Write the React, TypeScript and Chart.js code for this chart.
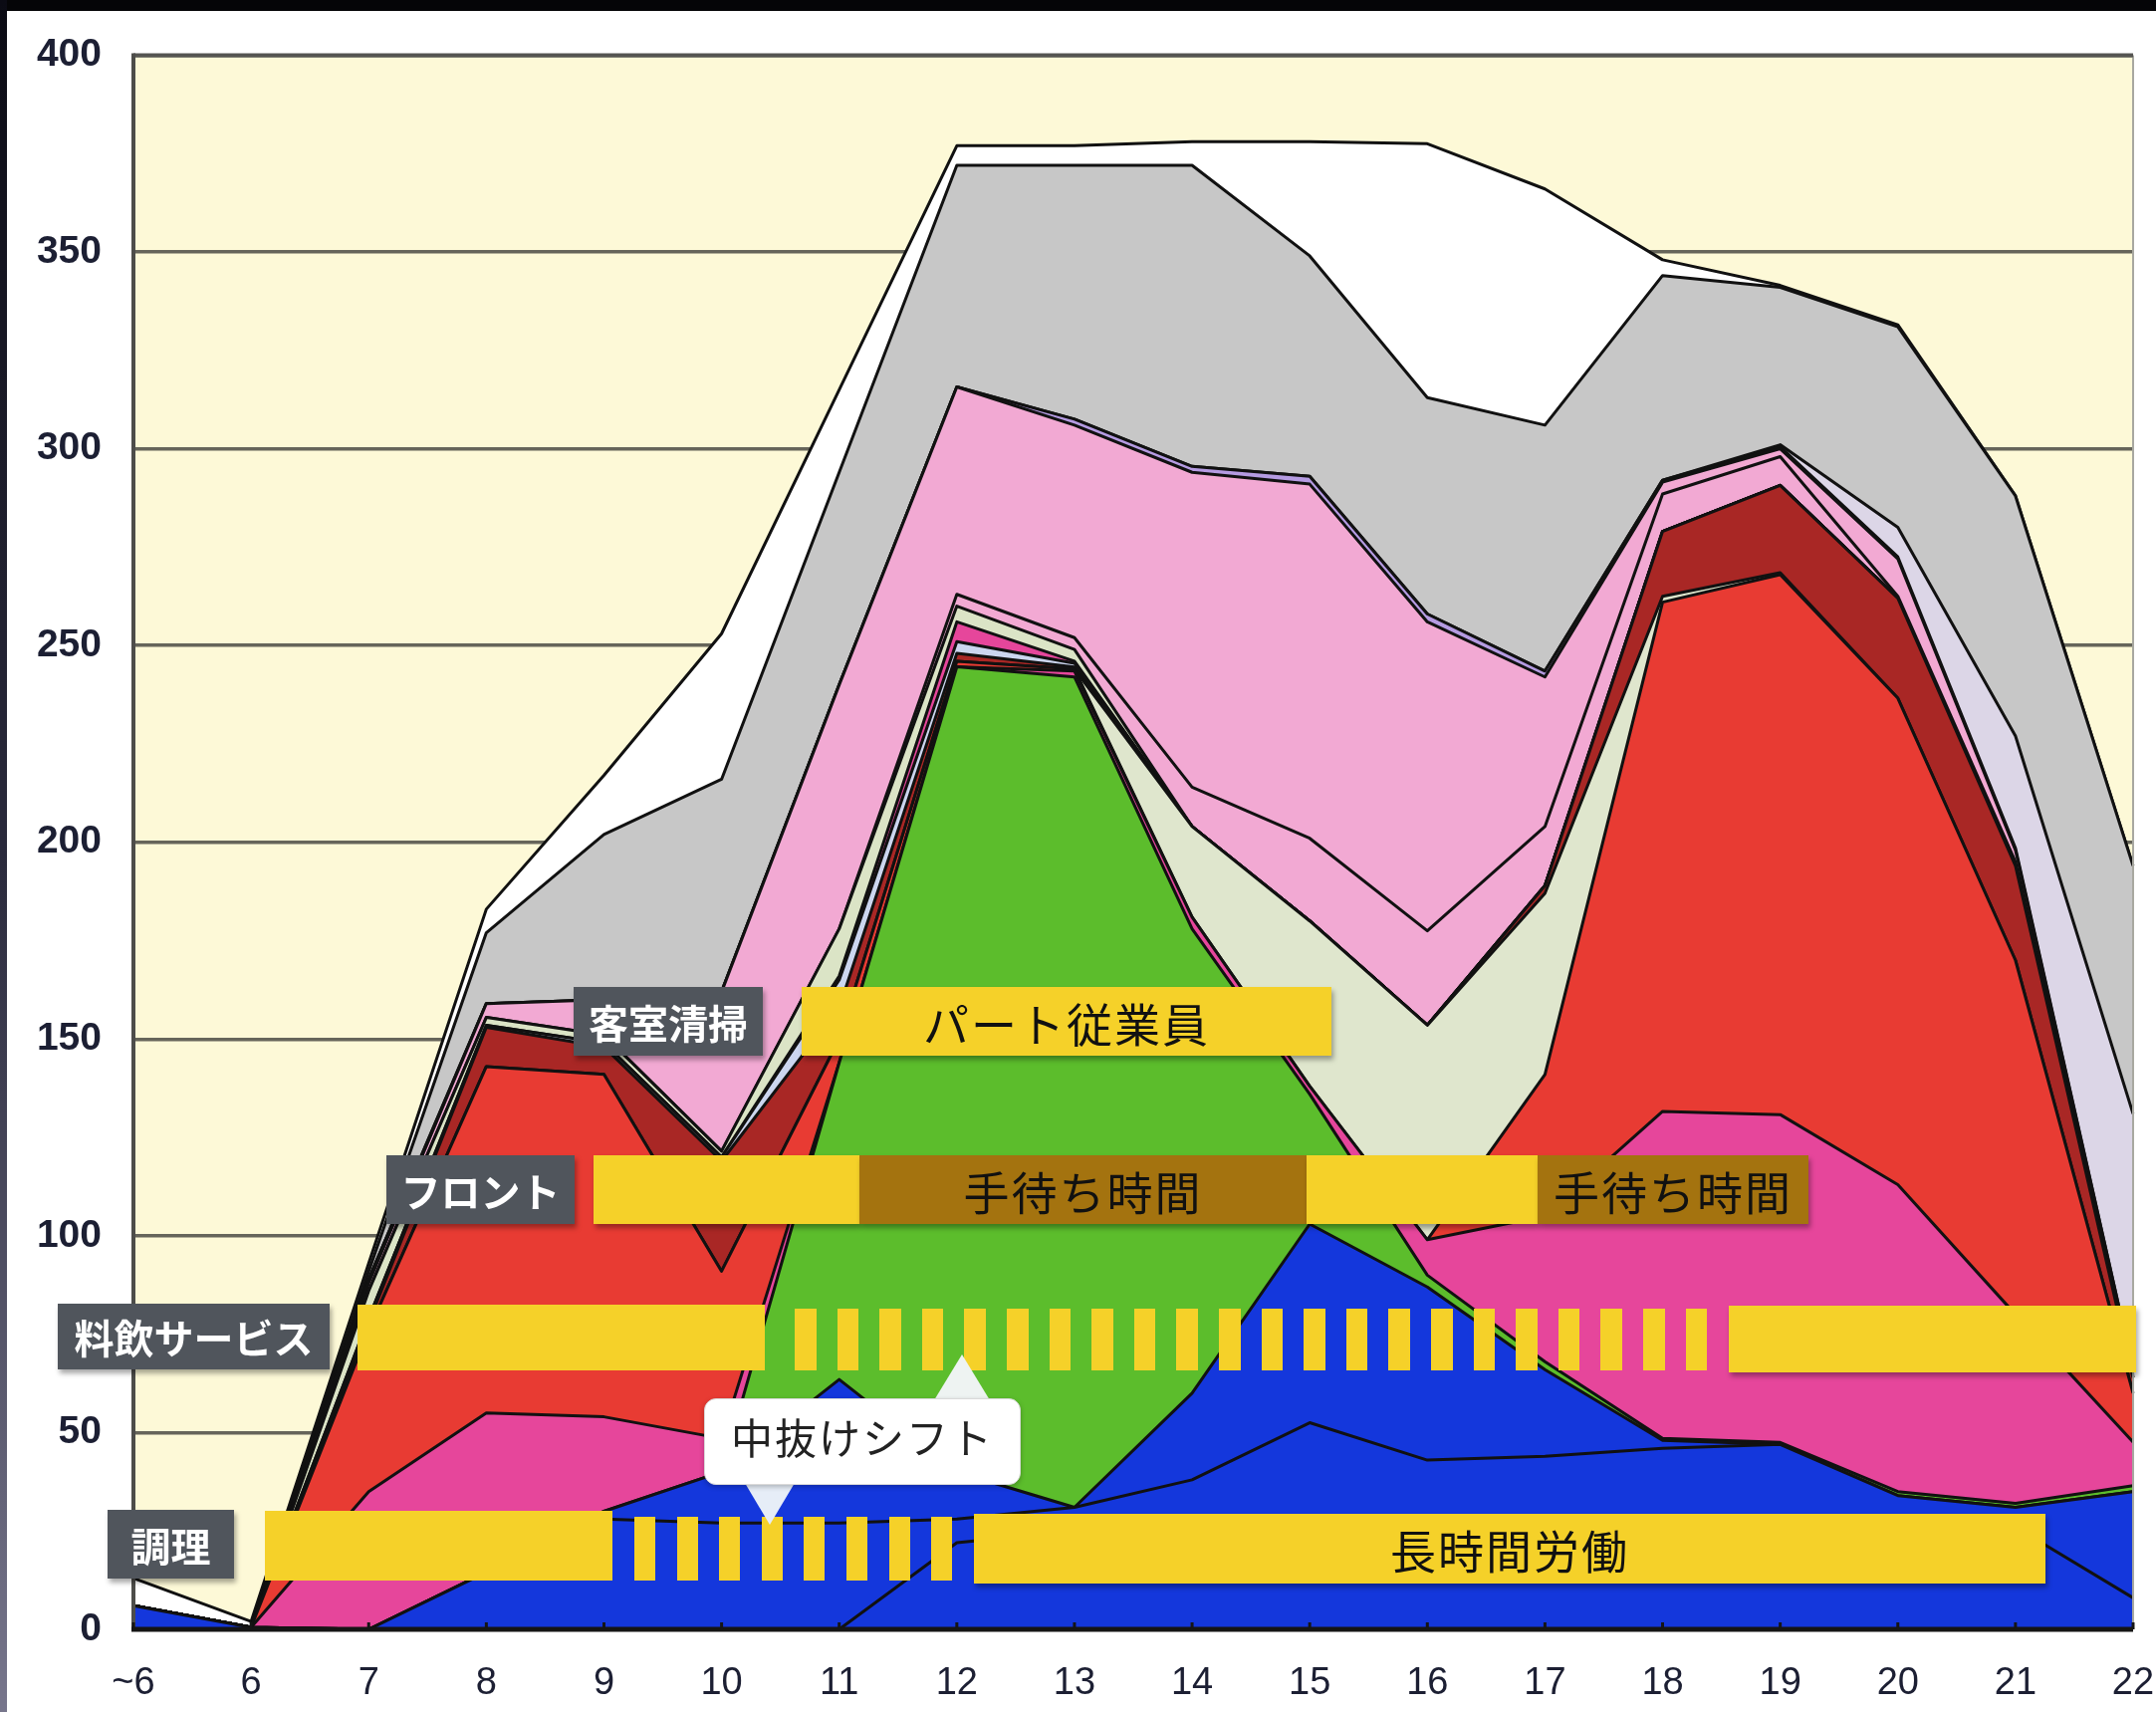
import React, { useEffect, useRef } from 'react';
import { Chart, registerables } from 'chart.js';

Chart.register(...registerables);

// ---- categories (hour of day) ----
const hours = ['~6', '6', '7', '8', '9', '10', '11', '12', '13', '14', '15', '16', '17', '18', '19', '20', '21', '22'];
const yTicks = [0, 50, 100, 150, 200, 250, 300, 350, 400];

// ---- stacked layer values (bottom to top) ----
const blueBase    = [6, 0.5, 0, 0, 0, 0, 0, 22, 25, 26, 27, 27, 27, 27, 27, 27, 26, 8];
const blueMid     = [0, 0, 0, 14.5, 28, 27, 27, 6, 6, 12, 25.5, 16, 17, 19, 20, 7, 5, 27];
const blueUpper   = [0, 0, 0, 0, 2, 13, 36.5, 12, 0, 22, 50.5, 44, 22, 2, 0, 0, 0, 0];
const greenPart   = [0, 0, 0, 0, 0, 0, 80.5, 204.6, 211, 118, 33, 3, 2, 0.5, 0.5, 1, 1, 1.5];
const magentaPart = [0, 0, 35, 40.5, 24, 8.5, 0, 0, 1.5, 3, 2, 9, 37, 83.1, 83.3, 78, 48, 11.1];
const redPart     = [0, 0, 41, 88, 87, 42.5, 6, 1.4, 0.5, 0, 0, 0, 36, 129.4, 137.2, 123.6, 90, 12.4];
const sageLower   = [0, 0, 0, 0, 0, 0, 0, 0, 0, 23, 42, 54.5, 46, 1.5, 0.5, 0, 0, 0];
const darkRedPart = [0, 0, 2, 10, 7, 28, 8, 2, 0.5, 0, 0, 0, 2, 16.5, 22.2, 25.4, 24, 4];
const paleBlue    = [0, 0, 1, 0.5, 1, 1, 7, 3, 1, 0, 0, 0, 0, 0, 0, 0, 0, 0];
const hotPinkThin = [0, 0, 0, 0, 0, 0, 1, 5, 0.5, 0, 0, 0, 0, 0, 0, 0, 0, 0];
const sageUpper   = [0, 0, 7, 2, 2, 1.5, 12, 4, 3, 0, 0, 0, 0, 0, 0, 0, 0, 0];
const pinkLower   = [0, 0, 0, 0, 0, 0, 0, 3, 3, 10, 21, 24, 15, 9.5, 7.3, 0.5, 1, 0.5];
const pinkUpper   = [0, 0, 2, 3.5, 9, 40.5, 62, 52.7, 54, 80, 90, 78.5, 38, 3, 2, 9.5, 3, 1.5];
const lavenderThin= [0, 0, 1, 0, 0, 0, 0, 0, 1.5, 1.5, 2, 2, 1.5, 0.5, 0.5, 0.5, 0.5, 0];
const lavenderPale= [0, 0, 0, 0, 0, 0, 0, 0, 0, 0, 0, 0, 0, 0, 0.5, 7.5, 28.5, 65];
const grayPart    = [0, 0, 2, 18, 42, 54, 54, 56.3, 64.5, 76.5, 56, 55, 62.5, 52, 40, 51, 61, 63];
const whitePart   = [7, 1.5, 2, 6, 15, 37, 21, 5, 5, 6, 29, 64.5, 60, 4, 0.5, 0.5, 0, 0];

const layers = [
  { label: 'blueBase', data: blueBase, color: '#1437dc' },
  { label: 'blueMid', data: blueMid, color: '#1437dc' },
  { label: 'blueUpper', data: blueUpper, color: '#1437dc' },
  { label: 'green', data: greenPart, color: '#5cbd2c' },
  { label: 'magenta', data: magentaPart, color: '#e6469b' },
  { label: 'red', data: redPart, color: '#e83b33' },
  { label: 'sageLower', data: sageLower, color: '#dfe6cd' },
  { label: 'darkRed', data: darkRedPart, color: '#a92725' },
  { label: 'paleBlue', data: paleBlue, color: '#ccd6ef' },
  { label: 'hotPinkThin', data: hotPinkThin, color: '#e6469b' },
  { label: 'sageUpper', data: sageUpper, color: '#dbe4c6' },
  { label: 'pinkLower', data: pinkLower, color: '#f2a9d3' },
  { label: 'pinkUpper', data: pinkUpper, color: '#f2a9d3' },
  { label: 'lavenderThin', data: lavenderThin, color: '#b59be2' },
  { label: 'lavenderPale', data: lavenderPale, color: '#dcd6e7' },
  { label: 'gray', data: grayPart, color: '#c7c7c7' },
  { label: 'white', data: whitePart, color: '#ffffff' },
];

const W = 2165;
const H = 1719;
const JP = '"Noto Sans CJK JP", "Noto Sans CJK SC", sans-serif';
const TICKFONT = '"Liberation Sans", Arial, sans-serif';

const framePlugin = {
  id: 'frame',
  beforeDraw(chart: any) {
    const { ctx, chartArea } = chart;
    const { left, top, right, bottom } = chartArea;
    ctx.save();
    ctx.fillStyle = '#fdf9d7';
    ctx.fillRect(left, top, right - left, bottom - top);
    ctx.restore();
  },
  afterDatasetsDraw(chart: any) {
    const { ctx, chartArea } = chart;
    const { left, top, right, bottom } = chartArea;
    const xs = chart.scales.x;
    ctx.save();
    ctx.strokeStyle = '#a8a8a0';
    ctx.lineWidth = 2;
    ctx.beginPath();
    ctx.moveTo(right, top);
    ctx.lineTo(right, bottom);
    ctx.stroke();
    ctx.strokeStyle = '#555552';
    ctx.lineWidth = 4;
    ctx.beginPath();
    ctx.moveTo(left, top);
    ctx.lineTo(right, top);
    ctx.stroke();
    ctx.strokeStyle = '#4d4d4a';
    ctx.lineWidth = 4;
    ctx.beginPath();
    ctx.moveTo(left, top - 2);
    ctx.lineTo(left, bottom + 2);
    ctx.stroke();
    ctx.strokeStyle = '#151515';
    ctx.lineWidth = 5;
    ctx.beginPath();
    ctx.moveTo(left - 2, bottom);
    ctx.lineTo(right, bottom);
    ctx.stroke();
    ctx.lineWidth = 3;
    hours.forEach((_, i) => {
      const px = xs.getPixelForValue(i);
      ctx.beginPath();
      ctx.moveTo(px, bottom);
      ctx.lineTo(px, bottom - 7);
      ctx.stroke();
    });
    ctx.restore();
  },
};

function Box(props: {
  x: number; y: number; w: number; h: number; bg: string; color?: string;
  size?: number; weight?: number; shadow?: boolean; children?: React.ReactNode; spacing?: number;
}) {
  const { x, y, w, h, bg, color = '#111', size = 46, weight = 400, shadow = true, children, spacing = 0 } = props;
  return (
    <div
      style={{
        position: 'absolute', left: x, top: y, width: w, height: h, background: bg, color,
        fontSize: size, fontWeight: weight, fontFamily: JP, display: 'flex', alignItems: 'center',
        justifyContent: 'center', whiteSpace: 'nowrap', lineHeight: 1, letterSpacing: spacing,
        boxShadow: shadow ? '2px 4px 5px rgba(0,0,0,0.35)' : 'none',
      }}
    >
      {children}
    </div>
  );
}

const YELLOW = '#f5d129';
const BROWN = '#a4730f';
const LABEL = '#50555c';

export default function App() {
  const canvasRef = useRef<HTMLCanvasElement | null>(null);

  useEffect(() => {
    const canvas = canvasRef.current;
    if (!canvas) return;
    const chart = new Chart(canvas, {
      type: 'line',
      data: {
        labels: hours,
        datasets: layers.map((l, i) => ({
          label: l.label,
          data: l.data,
          backgroundColor: l.color,
          borderColor: '#111111',
          borderWidth: 3,
          fill: i === 0 ? 'origin' : '-1',
          pointRadius: 0,
          pointHoverRadius: 0,
          tension: 0,
          borderJoinStyle: 'round' as const,
        })),
      },
      options: {
        responsive: false,
        animation: false,
        devicePixelRatio: 1,
        events: [],
        layout: { autoPadding: false, padding: { top: 53, right: 23, left: 0, bottom: 0 } },
        plugins: { legend: { display: false }, tooltip: { enabled: false }, title: { display: false } },
        scales: {
          x: {
            type: 'category',
            offset: false,
            grid: { display: false, drawTicks: false },
            border: { display: false },
            ticks: {
              autoSkip: false,
              maxRotation: 0,
              padding: 32,
              color: '#1c1f33',
              font: { family: TICKFONT, size: 38, weight: 'normal' },
            },
            afterFit(scale: any) {
              scale.height = 83;
              scale.paddingLeft = 0;
              scale.paddingRight = 0;
            },
          },
          y: {
            stacked: true,
            min: 0,
            max: 400,
            afterBuildTicks(scale: any) { scale.ticks = yTicks.map((v) => ({ value: v })); },
            grid: { color: '#66655a', lineWidth: 3.5, drawTicks: false },
            border: { display: false },
            ticks: {
              padding: 32,
              color: '#1c1f33',
              font: { family: TICKFONT, size: 39, weight: 'bold' },
            },
            afterFit(scale: any) { scale.width = 134; },
          },
        },
      },
      plugins: [framePlugin],
    });
    return () => chart.destroy();
  }, []);

  const foodDashes = Array.from({ length: 22 }, (_, k) => 798 + k * 42.6);
  const cookDashes = Array.from({ length: 8 }, (_, k) => 637 + k * 42.6);

  return (
    <div style={{ position: 'absolute', left: 0, top: 0, width: W, height: H, background: '#fff', overflow: 'hidden' }}>
      <canvas ref={canvasRef} width={W} height={H} style={{ position: 'absolute', left: 0, top: 0, width: W, height: H }} />
      <div style={{ position: 'absolute', left: 0, top: 0, width: W, height: 11, background: '#050507' }} />
      <div style={{ position: 'absolute', left: 0, top: 0, width: 7, height: H, background: 'linear-gradient(#0b0b14, #2a2a3c 50%, #77768c)' }} />

      {/* row: 客室清掃 */}
      <Box x={576} y={991} w={190} h={69} bg={LABEL} color="#fff" size={40} weight={700}>客室清掃</Box>
      <Box x={805} y={991} w={532} h={69} bg={YELLOW} spacing={2}>パート従業員</Box>

      {/* row: フロント */}
      <Box x={388} y={1160} w={189} h={69} bg={LABEL} color="#fff" size={40} weight={700}>フロント</Box>
      <Box x={596} y={1160} w={267} h={69} bg={YELLOW} />
      <Box x={863} y={1160} w={449} h={69} bg={BROWN} spacing={2}>手待ち時間</Box>
      <Box x={1312} y={1160} w={232} h={69} bg={YELLOW} />
      <Box x={1544} y={1160} w={272} h={69} bg={BROWN} spacing={2}>手待ち時間</Box>

      {/* row: 料飲サービス */}
      <Box x={58} y={1309} w={273} h={66} bg={LABEL} color="#fff" size={40} weight={700}>料飲サービス</Box>
      <Box x={359} y={1310} w={409} h={66} bg={YELLOW} shadow={false} />
      {foodDashes.map((x, k) => (
        <div key={'f' + k} style={{ position: 'absolute', left: x, top: 1314, width: 21.5, height: 62, background: YELLOW }} />
      ))}
      <Box x={1736} y={1311} w={409} h={67} bg={YELLOW} />

      {/* row: 調理 */}
      <Box x={108} y={1516} w={127} h={69} bg={LABEL} color="#fff" size={40} weight={700}>調理</Box>
      <Box x={266} y={1517} w={349} h={70} bg={YELLOW} shadow={false} />
      {cookDashes.map((x, k) => (
        <div key={'c' + k} style={{ position: 'absolute', left: x, top: 1523, width: 21, height: 64, background: YELLOW }} />
      ))}
      <Box x={978} y={1520} w={1076} h={70} bg={YELLOW} spacing={2}>長時間労働</Box>

      {/* callout 中抜けシフト */}
      <svg width={W} height={H} style={{ position: 'absolute', left: 0, top: 0, pointerEvents: 'none' }}>
        <polygon points="938,1406 966,1360 994,1406" fill="#eef3f2" />
        <polygon points="748,1489 773,1531 798,1489" fill="#e6edf7" />
      </svg>
      <div
        style={{
          position: 'absolute', left: 707, top: 1404, width: 318, height: 87, background: '#ffffff',
          borderRadius: 12, border: '1px solid #d9d9d9', boxShadow: '0 2px 5px rgba(0,0,0,0.25)',
          display: 'flex', alignItems: 'center', justifyContent: 'center', fontFamily: JP,
          fontSize: 42, color: '#222', whiteSpace: 'nowrap', letterSpacing: 2, lineHeight: 1,
          boxSizing: 'border-box', paddingBottom: 12,
        }}
      >
        中抜けシフト
      </div>
    </div>
  );
}
